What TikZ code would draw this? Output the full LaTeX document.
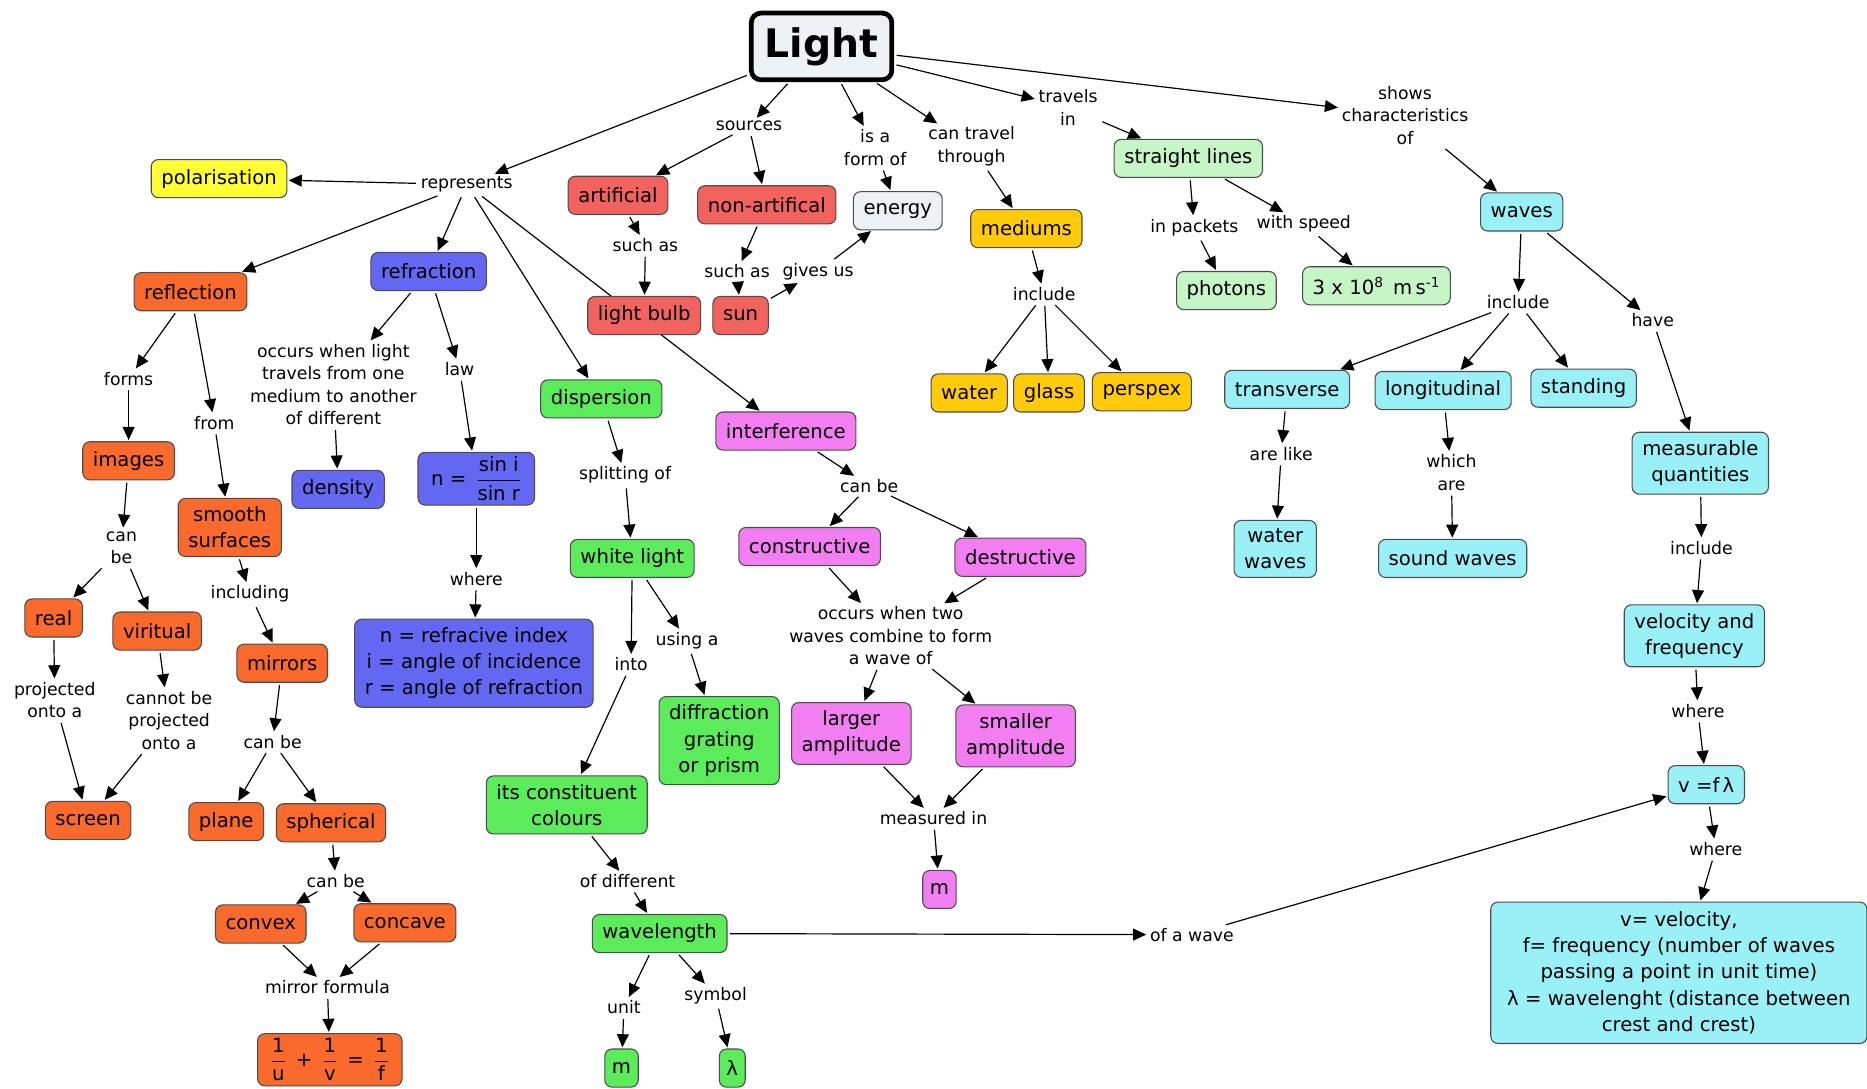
\documentclass[tikz,border=0pt]{standalone}
\usepackage{amsmath}
\usepackage{fontspec}
\setmainfont{DejaVu Sans}
\usepackage{xcolor}
\usepackage{tikz}
\usetikzlibrary{arrows.meta, positioning, backgrounds}

\definecolor{redfill}{HTML}{F2635F}
\definecolor{orangefill}{HTML}{FA6A2C}
\definecolor{bluefill}{HTML}{6467F2}
\definecolor{greenfill}{HTML}{5BEB5B}
\definecolor{pinkfill}{HTML}{F27EF2}
\definecolor{yellowfill}{HTML}{FFFF33}
\definecolor{goldfill}{HTML}{FFCA0A}
\definecolor{mintfill}{HTML}{C6F5C6}
\definecolor{cyanfill}{HTML}{9AF0F7}
\definecolor{grayfill}{HTML}{ECF2F5}

\begin{document}
\begin{tikzpicture}[
    x=1pt, y=-1pt,
    concept/.style={rectangle, draw=black!70, line width=0.9pt, rounded corners=6pt, align=center, inner xsep=8.5pt, inner ysep=7pt, minimum height=32pt, font=\fontsize{16.5}{22}\selectfont},
    phrase/.style={align=center, inner sep=2pt, fill=white, font=\fontsize{14.5}{19}\selectfont},
    redbox/.style={concept, fill=redfill},
    orangebox/.style={concept, fill=orangefill},
    bluebox/.style={concept, fill=bluefill},
    greenbox/.style={concept, fill=greenfill},
    pinkbox/.style={concept, fill=pinkfill},
    goldbox/.style={concept, fill=goldfill},
    mintbox/.style={concept, fill=mintfill},
    cyanbox/.style={concept, fill=cyanfill},
    link/.style={-{Triangle[length=11pt, width=10pt]}, line width=1pt, shorten <=2pt, shorten >=1pt},
]
    \useasboundingbox (0,0) rectangle (1568,914);

    % Root
    \node[concept, fill=grayfill, draw=black, line width=4pt, rounded corners=8pt, minimum width=118pt, minimum height=56pt, font=\fontsize{33}{38}\selectfont\bfseries] (light) at (690,39) {Light};

    % Links from the root
    \node[phrase] (represents) at (392,155) {represents};
    \node[phrase] (sources) at (629,106) {sources};
    \node[phrase] (isaform) at (735,124) {is a\\form of};
    \node[phrase] (cantravel) at (816,123) {can travel\\through};
    \node[phrase] (travelsin) at (897,90) {travels\\in};
    \node[phrase] (shows) at (1180,97) {shows\\characteristics\\of};

    % Sources and energy
    \node[concept, fill=yellowfill] (polarisation) at (184,150) {polarisation};
    \node[redbox] (artificial) at (519,164) {artificial};
    \node[redbox] (nonart) at (644,172) {non-artifical};
    \node[concept, fill=grayfill] (energy) at (754,177) {energy};
    \node[phrase] (suchasa) at (542,206) {such as};
    \node[phrase] (suchasb) at (619,228) {such as};
    \node[phrase] (givesus) at (687,228) {gives us};
    \node[redbox] (lightbulb) at (541,265) {light bulb};
    \node[redbox] (sun) at (622,265) {sun};

    % Mediums
    \node[goldbox] (mediums) at (862,192) {mediums};
    \node[phrase] (incmed) at (877,247) {include};
    \node[goldbox] (water) at (814,330) {water};
    \node[goldbox] (glass) at (881,330) {glass};
    \node[goldbox] (perspex) at (959,329) {perspex};

    % Straight lines
    \node[mintbox] (straight) at (998,133) {straight lines};
    \node[phrase] (inpackets) at (1003,191) {in packets};
    \node[phrase] (withspeed) at (1095,188) {with speed};
    \node[mintbox] (photons) at (1030,244) {photons};
    \node[mintbox] (speed) at (1156,240) {3 x 10\textsuperscript{8}\, m\,s\textsuperscript{-1}};

    % Waves
    \node[cyanbox] (waves) at (1278,178) {waves};
    \node[phrase] (incwaves) at (1275,254) {include};
    \node[phrase] (have) at (1388,269) {have};
    \node[cyanbox] (transverse) at (1081,327) {transverse};
    \node[cyanbox] (longitudinal) at (1212,328) {longitudinal};
    \node[cyanbox] (standing) at (1330,326) {standing};
    \node[phrase] (arelike) at (1076,381) {are like};
    \node[phrase] (whichare) at (1219,397) {which\\are};
    \node[cyanbox] (waterwaves) at (1071,461) {water\\waves};
    \node[cyanbox] (soundwaves) at (1220,469) {sound waves};
    \node[cyanbox] (measurable) at (1428,389) {measurable\\quantities};
    \node[phrase] (incmeas) at (1429,460) {include};
    \node[cyanbox] (velfreq) at (1423,534) {velocity and\\frequency};
    \node[phrase] (wherea) at (1426,597) {where};
    \node[cyanbox] (vfl) at (1433,659) {v =f\,λ};
    \node[phrase] (whereb) at (1441,713) {where};
    \node[cyanbox, minimum width=316pt, inner ysep=8pt] (wavedefs) at (1410,817) {v= velocity,\\f= frequency (number of waves\\passing a point in unit time)\\λ = wavelenght (distance between\\crest and crest)};
    \node[phrase] (ofawave) at (1001,785) {of a wave};

    % Reflection
    \node[orangebox] (reflection) at (160,245) {reflection};
    \node[phrase] (forms) at (108,318) {forms};
    \node[phrase] (from) at (180,355) {from};
    \node[orangebox] (images) at (108,387) {images};
    \node[orangebox] (smooth) at (193,443) {smooth\\surfaces};
    \node[phrase] (canbea) at (102,460) {can\\be};
    \node[phrase] (including) at (210,499) {including};
    \node[orangebox] (real) at (45,519) {real};
    \node[orangebox] (viritual) at (132,530) {viritual};
    \node[orangebox] (mirrors) at (237,557) {mirrors};
    \node[phrase] (projected) at (46,588) {projected\\onto a};
    \node[phrase] (cannot) at (142,605) {cannot be\\projected\\onto a};
    \node[phrase] (canbeb) at (229,623) {can be};
    \node[orangebox] (screen) at (74,689) {screen};
    \node[orangebox] (plane) at (190,690) {plane};
    \node[orangebox] (spherical) at (278,691) {spherical};
    \node[phrase] (canbec) at (282,740) {can be};
    \node[orangebox] (convex) at (219,776) {convex};
    \node[orangebox] (concave) at (340,775) {concave};
    \node[phrase] (mirrorformula) at (275,829) {mirror formula};
    \node[orangebox, inner xsep=11pt, inner ysep=4pt] (formula) at (277,890) {$\dfrac{\text{1}}{\text{u}}$\enspace+\enspace$\dfrac{\text{1}}{\text{v}}$\enspace=\enspace$\dfrac{\text{1}}{\text{f}}$};

    % Refraction
    \node[bluebox] (refraction) at (360,228) {refraction};
    \node[phrase] (occurs) at (280,323) {occurs when light\\travels from one\\medium to another\\of different};
    \node[phrase] (law) at (386,310) {law};
    \node[bluebox] (density) at (284,411) {density};
    \node[bluebox, inner xsep=11pt, inner ysep=4pt] (snell) at (400,402) {n =\enspace$\dfrac{\text{sin i}}{\text{sin r}}$};
    \node[phrase] (wherec) at (400,486) {where};
    \node[bluebox] (refdefs) at (398,557) {n = refracive index\\i = angle of incidence\\r = angle of refraction};

    % Dispersion
    \node[greenbox] (dispersion) at (505,335) {dispersion};
    \node[phrase] (splitting) at (525,399) {splitting of};
    \node[greenbox] (whitelight) at (531,469) {white light};
    \node[phrase] (into) at (530,558) {into};
    \node[phrase] (usinga) at (577,538) {using a};
    \node[greenbox] (diffraction) at (604,622) {diffraction\\grating\\or prism};
    \node[greenbox] (constituent) at (476,676) {its constituent\\colours};
    \node[phrase] (ofdifferent) at (527,740) {of different};
    \node[greenbox] (wavelength) at (554,784) {wavelength};
    \node[phrase] (unit) at (524,846) {unit};
    \node[phrase] (symbol) at (601,836) {symbol};
    \node[greenbox, inner xsep=6pt] (unitm) at (522,897) {m};
    \node[greenbox, inner xsep=6pt] (lambda) at (615,897) {λ};

    % Interference
    \node[pinkbox] (interference) at (660,362) {interference};
    \node[phrase] (canbed) at (730,408) {can be};
    \node[pinkbox] (constructive) at (680,459) {constructive};
    \node[pinkbox] (destructive) at (857,468) {destructive};
    \node[phrase] (occurstwo) at (748,534) {occurs when two\\waves combine to form\\a wave of};
    \node[pinkbox] (larger) at (715,616) {larger\\amplitude};
    \node[pinkbox] (smaller) at (853,618) {smaller\\amplitude};
    \node[phrase] (measuredin) at (784,687) {measured in};
    \node[pinkbox, inner xsep=6pt] (measm) at (789,747) {m};

    % Connections
    \begin{scope}[on background layer]
    \draw[link] (light) -- (represents);
    \draw[link] (light) -- (sources);
    \draw[link] (light) -- (isaform);
    \draw[link] (light) -- (cantravel);
    \draw[link] (light) -- (travelsin);
    \draw[link] (light) -- (shows);

    \draw[link] (represents) -- (polarisation);
    \draw[link] (represents) -- (reflection);
    \draw[link] (represents) -- (refraction);
    \draw[link] (represents) -- (dispersion);
    \draw[link] (represents) -- (interference);

    \draw[link] (sources) -- (artificial);
    \draw[link] (sources) -- (nonart);
    \draw[link] (artificial) -- (suchasa);
    \draw[link] (suchasa) -- (lightbulb);
    \draw[link] (nonart) -- (suchasb);
    \draw[link] (suchasb) -- (sun);
    \draw[link] (sun) -- (givesus);
    \draw[link] (givesus) -- (energy);
    \draw[link] (isaform) -- (energy);

    \draw[link] (cantravel) -- (mediums);
    \draw[link] (mediums) -- (incmed);
    \draw[link] (incmed) -- (water);
    \draw[link] (incmed) -- (glass);
    \draw[link] (incmed) -- (perspex);

    \draw[link] (travelsin) -- (straight);
    \draw[link] (straight) -- (inpackets);
    \draw[link] (inpackets) -- (photons);
    \draw[link] (straight) -- (withspeed);
    \draw[link] (withspeed) -- (speed);

    \draw[link] (shows) -- (waves);
    \draw[link] (waves) -- (incwaves);
    \draw[link] (waves) -- (have);
    \draw[link] (incwaves) -- (transverse);
    \draw[link] (incwaves) -- (longitudinal);
    \draw[link] (incwaves) -- (standing);
    \draw[link] (transverse) -- (arelike);
    \draw[link] (arelike) -- (waterwaves);
    \draw[link] (longitudinal) -- (whichare);
    \draw[link] (whichare) -- (soundwaves);
    \draw[link] (have) -- (measurable);
    \draw[link] (measurable) -- (incmeas);
    \draw[link] (incmeas) -- (velfreq);
    \draw[link] (velfreq) -- (wherea);
    \draw[link] (wherea) -- (vfl);
    \draw[link] (vfl) -- (whereb);
    \draw[link] (whereb) -- (wavedefs);

    \draw[link] (reflection) -- (forms);
    \draw[link] (reflection) -- (from);
    \draw[link] (forms) -- (images);
    \draw[link] (from) -- (smooth);
    \draw[link] (images) -- (canbea);
    \draw[link] (canbea) -- (real);
    \draw[link] (canbea) -- (viritual);
    \draw[link] (real) -- (projected);
    \draw[link] (projected) -- (screen);
    \draw[link] (viritual) -- (cannot);
    \draw[link] (cannot) -- (screen);
    \draw[link] (smooth) -- (including);
    \draw[link] (including) -- (mirrors);
    \draw[link] (mirrors) -- (canbeb);
    \draw[link] (canbeb) -- (plane);
    \draw[link] (canbeb) -- (spherical);
    \draw[link] (spherical) -- (canbec);
    \draw[link] (canbec) -- (convex);
    \draw[link] (canbec) -- (concave);
    \draw[link] (convex) -- (mirrorformula);
    \draw[link] (concave) -- (mirrorformula);
    \draw[link] (mirrorformula) -- (formula);

    \draw[link] (refraction) -- (occurs);
    \draw[link] (refraction) -- (law);
    \draw[link] (occurs) -- (density);
    \draw[link] (law) -- (snell);
    \draw[link] (snell) -- (wherec);
    \draw[link] (wherec) -- (refdefs);

    \draw[link] (dispersion) -- (splitting);
    \draw[link] (splitting) -- (whitelight);
    \draw[link] (whitelight) -- (into);
    \draw[link] (whitelight) -- (usinga);
    \draw[link] (usinga) -- (diffraction);
    \draw[link] (into) -- (constituent);
    \draw[link] (constituent) -- (ofdifferent);
    \draw[link] (ofdifferent) -- (wavelength);
    \draw[link] (wavelength) -- (unit);
    \draw[link] (wavelength) -- (symbol);
    \draw[link] (unit) -- (unitm);
    \draw[link] (symbol) -- (lambda);
    \draw[link] (wavelength) -- (ofawave);
    \draw[link] (ofawave) -- (vfl);

    \draw[link] (interference) -- (canbed);
    \draw[link] (canbed) -- (constructive);
    \draw[link] (canbed) -- (destructive);
    \draw[link] (constructive) -- (occurstwo);
    \draw[link] (destructive) -- (occurstwo);
    \draw[link] (occurstwo) -- (larger);
    \draw[link] (occurstwo) -- (smaller);
    \draw[link] (larger) -- (measuredin);
    \draw[link] (smaller) -- (measuredin);
    \draw[link] (measuredin) -- (measm);
    \end{scope}
\end{tikzpicture}
\end{document}
